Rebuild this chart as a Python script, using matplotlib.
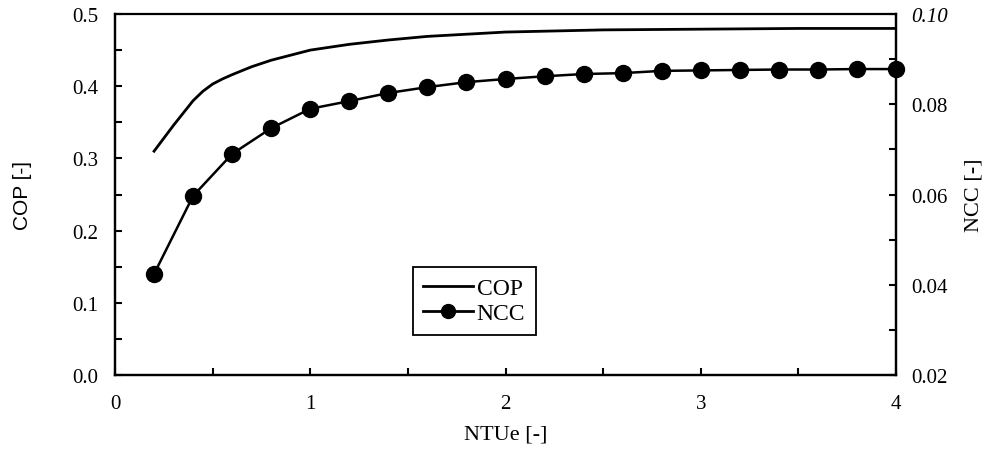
import numpy as np
import matplotlib
matplotlib.use("Agg")
import matplotlib.pyplot as plt
from matplotlib.ticker import MultipleLocator, FormatStrFormatter
from matplotlib.lines import Line2D

plt.rcParams["font.family"] = ["Liberation Serif", "DejaVu Serif"]

# COP curve (left axis)
ntu_cop = [0.2, 0.3, 0.4, 0.45, 0.5, 0.55, 0.6, 0.7, 0.8, 1.0, 1.2, 1.4, 1.6, 1.8,
           2.0, 2.5, 3.0, 3.5, 4.0]
cop = [0.310, 0.346, 0.380, 0.393, 0.403, 0.410, 0.416, 0.427, 0.436, 0.450, 0.458,
       0.464, 0.469, 0.472, 0.475, 0.478, 0.479, 0.480, 0.480]

# NCC curve (right axis)
ntu_ncc = [0.2, 0.4, 0.6, 0.8, 1.0, 1.2, 1.4, 1.6, 1.8, 2.0,
           2.2, 2.4, 2.6, 2.8, 3.0, 3.2, 3.4, 3.6, 3.8, 4.0]
ncc = [0.0424, 0.0597, 0.0690, 0.0747, 0.0790, 0.0807, 0.0825, 0.0838, 0.0849, 0.0856,
       0.0862, 0.0867, 0.0869, 0.0874, 0.0875, 0.0876, 0.0877, 0.0877, 0.0878, 0.0878]

fig = plt.figure(figsize=(9.89, 4.56), dpi=100)
ax = fig.add_axes([0.1163, 0.1754, 0.7897, 0.7917])
ax2 = ax.twinx()

ax.plot(ntu_cop, cop, color="black", linewidth=2.0)
ax2.plot(ntu_ncc, ncc, color="black", linewidth=1.8, marker="o", markersize=11.5,
         clip_on=False)

ax.set_xlim(0, 4)
ax.set_ylim(0, 0.5)
ax2.set_ylim(0.02, 0.10)

ax.xaxis.set_major_locator(MultipleLocator(1))
ax.xaxis.set_minor_locator(MultipleLocator(0.5))
ax.yaxis.set_major_locator(MultipleLocator(0.1))
ax.yaxis.set_minor_locator(MultipleLocator(0.05))
ax.yaxis.set_major_formatter(FormatStrFormatter("%.1f"))
ax2.yaxis.set_major_locator(MultipleLocator(0.02))
ax2.yaxis.set_minor_locator(MultipleLocator(0.01))
ax2.yaxis.set_major_formatter(FormatStrFormatter("%.2f"))

ax.tick_params(axis="both", which="both", direction="in", labelsize=15, width=1.5, length=5)
ax.tick_params(axis="y", which="major", pad=12)
ax.tick_params(axis="x", which="major", pad=14)
ax2.tick_params(axis="y", which="both", direction="in", labelsize=15, width=1.5, length=5, pad=11)

for a in (ax, ax2):
    for s in a.spines.values():
        s.set_linewidth(1.6)
ax.spines["top"].set_linewidth(1.2)

fig.canvas.draw()
for lbl in ax2.get_yticklabels():
    if lbl.get_text() == "0.10":
        lbl.set_style("italic")

ax.set_xlabel("NTUe [-]", fontsize=16, labelpad=8)
ax.set_ylabel("COP [-]", fontsize=15, family=["Liberation Sans", "DejaVu Sans"], labelpad=29)
ax2.set_ylabel("NCC [-]", fontsize=16, labelpad=12)

handles = [Line2D([], [], color="black", linewidth=2.0),
           Line2D([], [], color="black", linewidth=2.0, marker="o", markersize=10)]
leg = ax.legend(handles, ["COP", "NCC"], loc="center", bbox_to_anchor=(0.46, 0.205),
                fontsize=17, frameon=True, fancybox=False, handlelength=2.1,
                handletextpad=0.15, borderpad=0.45, labelspacing=0.15, borderaxespad=0)
leg.get_frame().set_edgecolor("black")
leg.get_frame().set_linewidth(1.3)
leg.get_frame().set_alpha(1)

fig.savefig("out.png", dpi=100, facecolor="white")
